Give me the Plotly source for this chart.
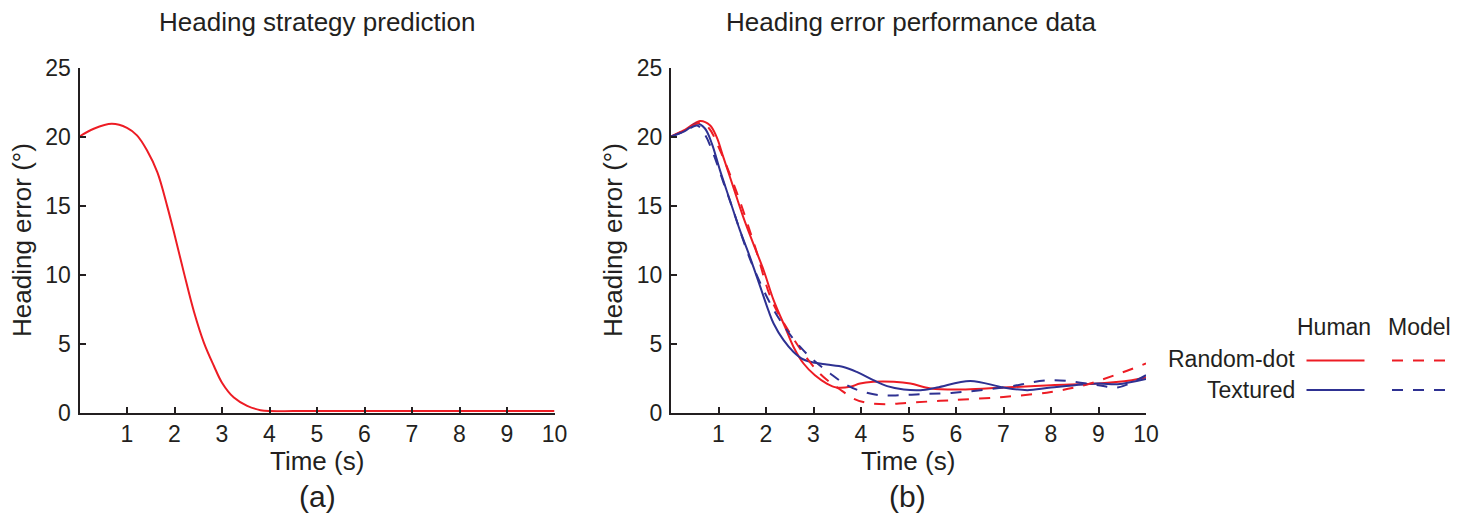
import plotly.graph_objects as go

# ---- data ----
pred_t = [0, 0.3, 0.68, 1.0, 1.21, 1.42, 1.64, 1.85, 2.0, 2.2, 2.41, 2.62, 2.83, 3.0, 3.25, 3.53, 3.81, 4.0, 4.5, 5, 6, 7, 8, 9, 10]
pred_y = [20.0, 20.56, 20.92, 20.63, 20.08, 19.0, 17.4, 14.9, 12.9, 10.1, 7.3, 5.05, 3.37, 2.16, 1.08, 0.48, 0.17, 0.1, 0.1, 0.1, 0.1, 0.1, 0.1, 0.1, 0.1]

hum_rd_t = [0, 0.3, 0.61, 0.82, 0.96, 1.10, 1.31, 1.52, 1.73, 1.95, 2.16, 2.40, 2.58, 2.79, 3.03, 3.28, 3.49, 3.77, 3.98, 4.26, 4.69, 5.04, 5.47, 6.2, 7.0, 8.0, 9.0, 9.7, 10]
hum_rd_y = [20, 20.5, 21.13, 20.82, 19.97, 18.52, 16.35, 14.17, 12.25, 10.31, 8.14, 6.2, 4.75, 3.55, 2.7, 2.1, 1.81, 1.86, 2.1, 2.22, 2.22, 2.1, 1.74, 1.67, 1.81, 1.98, 2.1, 2.34, 2.53]

hum_tx_t = [0, 0.3, 0.54, 0.71, 0.86, 1.03, 1.24, 1.45, 1.66, 1.88, 2.05, 2.16, 2.37, 2.58, 2.79, 3.03, 3.28, 3.63, 3.91, 4.26, 4.55, 4.90, 5.25, 5.6, 6.3, 7.0, 7.5, 8.0, 9.0, 9.4, 10]
hum_tx_y = [20, 20.4, 20.94, 20.6, 19.49, 17.56, 15.38, 13.21, 11.28, 9.1, 7.4, 6.45, 5.24, 4.39, 3.84, 3.6, 3.47, 3.3, 2.94, 2.34, 1.91, 1.67, 1.62, 1.81, 2.29, 1.81, 1.62, 1.81, 2.1, 2.05, 2.43]

mod_rd_t = [0, 0.3, 0.62, 0.8, 1.0, 1.38, 1.77, 2.12, 2.51, 2.79, 3.10, 3.38, 3.60, 3.84, 4.12, 4.55, 4.97, 5.89, 7.0, 8.0, 8.7, 9.34, 10]
mod_rd_y = [20, 20.5, 21.0, 20.6, 19.25, 15.99, 12.0, 8.14, 5.72, 4.27, 2.94, 2.1, 1.57, 1.01, 0.70, 0.6, 0.70, 0.89, 1.13, 1.49, 1.98, 2.7, 3.55]

mod_tx_t = [0, 0.3, 0.55, 0.72, 0.89, 1.10, 1.31, 1.52, 1.73, 2.12, 2.44, 2.72, 3.0, 3.35, 3.70, 3.98, 4.40, 4.82, 5.25, 5.9, 7.0, 8.0, 9.0, 9.4, 10]
mod_tx_y = [20, 20.4, 20.8, 20.1, 18.77, 16.71, 14.66, 12.49, 10.55, 7.7, 5.96, 4.75, 3.79, 2.83, 1.98, 1.57, 1.25, 1.25, 1.33, 1.42, 1.81, 2.34, 1.98, 1.81, 2.7]

x_ticks = [1, 2, 3, 4, 5, 6, 7, 8, 9, 10]
y_ticks = [0, 5, 10, 15, 20, 25]

RED = "#ed1c24"
BLUE = "#2e3192"
INK = "#231f20"
FONT = "Liberation Sans, Arial, Helvetica, sans-serif"
W, H = 1467, 516
DASH = "11px,10px"

def px(x):
    return x / W

def py(y):
    return 1 - y / H

def line(t, v, color, xa, ya, dash=None):
    return go.Scatter(x=t, y=v, mode="lines",
                      line=dict(color=color, width=2, dash=dash, shape="spline", smoothing=1.0),
                      xaxis=xa, yaxis=ya, showlegend=False, hoverinfo="x+y")

fig = go.Figure()
fig.add_trace(line(pred_t, pred_y, RED, "x", "y"))
fig.add_trace(line(hum_rd_t, hum_rd_y, RED, "x2", "y2"))
fig.add_trace(line(hum_tx_t, hum_tx_y, BLUE, "x2", "y2"))
fig.add_trace(line(mod_rd_t, mod_rd_y, RED, "x2", "y2", DASH))
fig.add_trace(line(mod_tx_t, mod_tx_y, BLUE, "x2", "y2", DASH))

y_dom = [py(412.5), py(67.5)]
common_x = dict(range=[0, 10], tickvals=x_ticks, ticks="inside", ticklen=6, tickwidth=1.5, tickcolor=INK,
                showline=True, linecolor=INK, linewidth=2, showgrid=False, zeroline=False, automargin=False,
                tickfont=dict(family=FONT, size=23, color=INK), ticklabelstandoff=0, fixedrange=True)
common_y = dict(range=[0, 25], tickvals=y_ticks, ticks="inside", ticklen=6, tickwidth=1.5, tickcolor=INK,
                showline=True, linecolor=INK, linewidth=2, showgrid=False, zeroline=False, automargin=False,
                tickfont=dict(family=FONT, size=23, color=INK), ticklabelstandoff=2, fixedrange=True)

fig.update_layout(
    width=W, height=H, autosize=False,
    margin=dict(l=0, r=0, t=0, b=0, pad=0, autoexpand=False),
    paper_bgcolor="white", plot_bgcolor="white", showlegend=False,
    xaxis=dict(domain=[px(79.5), px(554.5)], anchor="y", **common_x),
    yaxis=dict(domain=y_dom, anchor="x", **common_y),
    xaxis2=dict(domain=[px(671), px(1146)], anchor="y2", **common_x),
    yaxis2=dict(domain=y_dom, anchor="x2", **common_y),
)

ann = []
def text(x, y, s, size, xanchor="center", angle=0):
    ann.append(dict(x=px(x), y=py(y), xref="paper", yref="paper", text=s, showarrow=False,
                    xanchor=xanchor, yanchor="middle", textangle=angle, borderpad=0,
                    font=dict(family=FONT, size=size, color=INK)))

text(317.5, 22, "Heading strategy prediction", 26)
text(911, 22, "Heading error performance data", 26)
text(22, 240, "Heading error (°)", 26, angle=-90)
text(613, 240, "Heading error (°)", 26, angle=-90)
text(317, 461, "Time (s)", 26)
text(908, 461, "Time (s)", 26)
text(317, 496, "(a)", 30)
text(908, 496, "(b)", 30)
# legend
text(1334, 327, "Human", 23)
text(1419, 327, "Model", 23)
text(1296, 359, "Random-dot", 23, xanchor="right")
text(1296, 390, "Textured", 23, xanchor="right")
fig.update_layout(annotations=ann)

shapes = []
for yy, col in [(360.5, RED), (390, BLUE)]:
    shapes.append(dict(type="line", xref="paper", yref="paper", x0=px(1306.5), x1=px(1364.5), y0=py(yy), y1=py(yy),
                       line=dict(color=col, width=2)))
    shapes.append(dict(type="line", xref="paper", yref="paper", x0=px(1392), x1=px(1448), y0=py(yy), y1=py(yy),
                       line=dict(color=col, width=2, dash=DASH)))
fig.update_layout(shapes=shapes)

fig.write_html("out.html", post_script="document.body.style.margin = '0';",
               config={"displayModeBar": False})
